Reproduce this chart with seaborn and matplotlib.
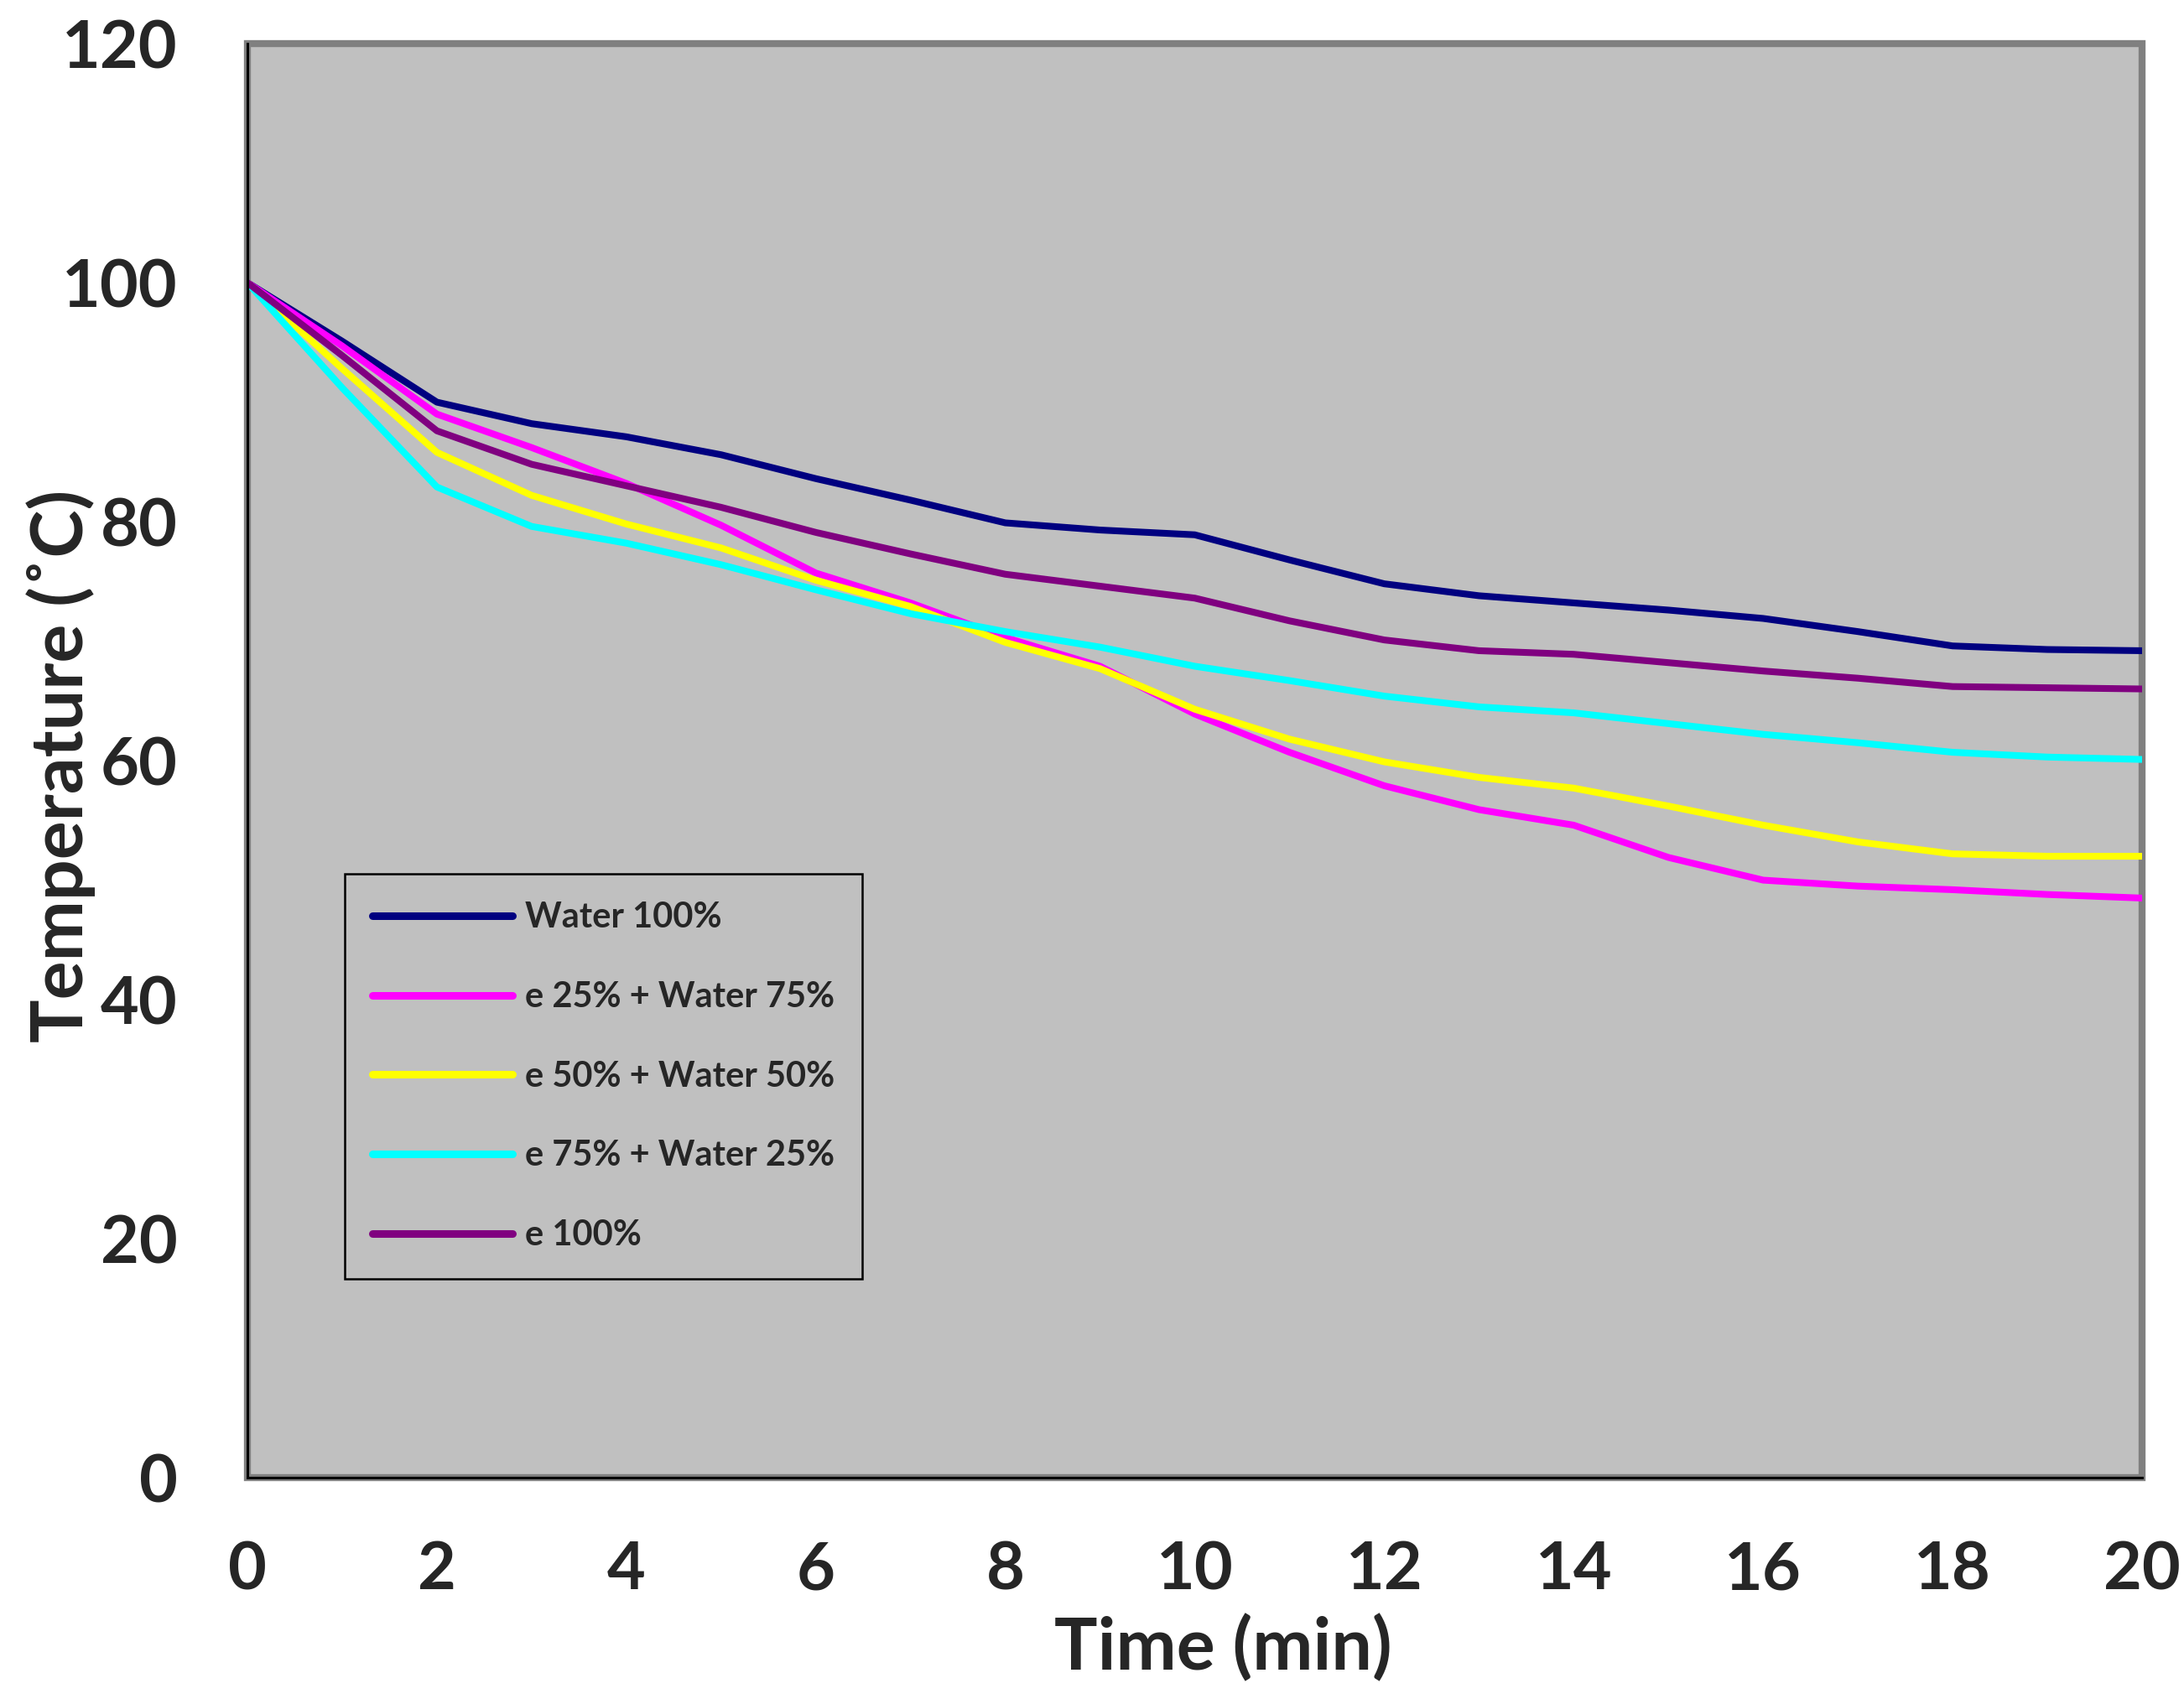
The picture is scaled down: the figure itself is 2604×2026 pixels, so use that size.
import pandas as pd
import matplotlib
matplotlib.use("Agg")
import matplotlib.pyplot as plt
import seaborn as sns

# ==========================
# Data
# ==========================

time_min = list(range(0, 21))

water_100 = [100, 95.1, 90.0, 88.2, 87.1, 85.6, 83.6, 81.8, 79.9, 79.3, 78.9,
             76.8, 74.8, 73.8, 73.2, 72.6, 71.9, 70.8, 69.6, 69.3, 69.2]
e25_water75 = [100, 94.7, 89.0, 86.2, 83.2, 79.7, 75.7, 73.2, 70.3, 67.9, 63.9,
               60.7, 57.9, 55.9, 54.6, 51.9, 50.0, 49.5, 49.2, 48.8, 48.5]
e50_water50 = [100, 92.8, 85.8, 82.2, 79.8, 77.8, 75.1, 72.9, 69.9, 67.7, 64.3,
               61.8, 59.9, 58.6, 57.7, 56.2, 54.6, 53.2, 52.2, 52.0, 52.0]
e75_water25 = [100, 91.2, 82.9, 79.6, 78.2, 76.4, 74.3, 72.3, 70.8, 69.5, 67.9,
               66.7, 65.4, 64.5, 64.0, 63.1, 62.2, 61.5, 60.7, 60.3, 60.1]
e_100 = [100, 93.9, 87.6, 84.8, 83.0, 81.2, 79.1, 77.3, 75.6, 74.6, 73.6,
         71.7, 70.1, 69.2, 68.9, 68.2, 67.5, 66.9, 66.2, 66.1, 66.0]

labels = ["Water 100%", "e 25% + Water 75%", "e 50% + Water 50%",
          "e 75% + Water 25%", "e 100%"]
colors = ["#000080", "#FF00FF", "#FFFF00", "#00FFFF", "#800080"]

x_ticks = list(range(0, 21, 2))
y_ticks = list(range(0, 121, 20))

df = pd.DataFrame({
    "Time": time_min,
    labels[0]: water_100,
    labels[1]: e25_water75,
    labels[2]: e50_water50,
    labels[3]: e75_water25,
    labels[4]: e_100,
})
df_long = df.melt(id_vars="Time", var_name="Mixture", value_name="Temperature")

# ==========================
# Style
# ==========================

sns.set_style("white")
plt.rcParams["font.family"] = ["Lato", "DejaVu Sans"]
plt.rcParams["font.weight"] = "bold"

fig = plt.figure(figsize=(26.04, 20.26), dpi=100)
ax = fig.add_axes([0.1133, 0.1303, 0.8675, 0.8440])

sns.lineplot(data=df_long, x="Time", y="Temperature", hue="Mixture",
             hue_order=labels, palette=dict(zip(labels, colors)),
             linewidth=5.8, ax=ax)
for line in ax.get_lines():
    line.set_solid_joinstyle("round")

ax.set_facecolor("#C0C0C0")
ax.patch.set_edgecolor("#808080")
ax.patch.set_linewidth(6)
ax.spines["top"].set_visible(False)
ax.spines["right"].set_visible(False)
for side in ["left", "bottom"]:
    ax.spines[side].set_color("black")
    ax.spines[side].set_linewidth(2.2)

ax.set_xlim(0, 20)
ax.set_ylim(0, 120)
ax.set_xticks(x_ticks)
ax.set_yticks(y_ticks)
ax.tick_params(axis="both", direction="inout", length=40, width=2.2,
               color="black", labelsize=57)
ax.tick_params(axis="x", pad=34)
ax.tick_params(axis="y", pad=40)

ax.set_xlabel("Time (min)", fontsize=62, fontweight="bold")
ax.set_ylabel("Temperature (˚C)", fontsize=62, fontweight="bold")
ax.xaxis.set_label_coords(0.515, -0.095)
ax.yaxis.set_label_coords(-0.080, 0.496)

# ==========================
# Legend
# ==========================

handles, lbls = ax.get_legend_handles_labels()
leg = ax.legend(handles, lbls, loc="upper left", bbox_to_anchor=(0.0514, 0.421),
                fontsize=30, frameon=True, fancybox=False, framealpha=1,
                facecolor="#C0C0C0", edgecolor="black", borderpad=0.8,
                labelspacing=1.36, handlelength=4.0, handletextpad=0.35,
                borderaxespad=0)
leg.get_frame().set_linewidth(1.8)
for line in leg.get_lines():
    line.set_linewidth(6.5)

fig.savefig("out.png", dpi=100)
